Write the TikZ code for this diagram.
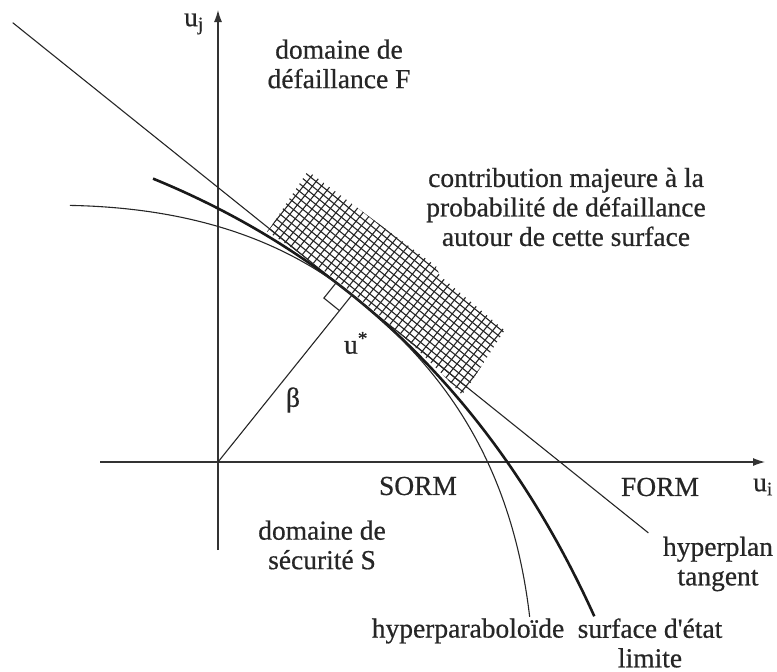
\documentclass[tikz,border=0pt]{standalone}
\usepackage{fontspec}
\setmainfont{Liberation Serif}
\newfontfamily\lblfont{Liberation Serif}[FakeBold=0.6]
\usetikzlibrary{arrows.meta}
\begin{document}
\begin{tikzpicture}[x=1pt,y=-1pt,
  lbl/.style={font=\lblfont\fontsize{27.5}{29.5}\selectfont, align=center, inner sep=0pt, text=black!85},
  thinline/.style={line width=1.1pt, black!85},
  thickline/.style={line width=2.6pt, black!90},
  axis/.style={line width=1.1pt, black!80, -{Latex[length=12pt,width=8pt]}},
  hatchline/.style={line width=1.1pt, black!85}]
\useasboundingbox (0,0) rectangle (777,672);
\coordinate (O) at (218,462);
\coordinate (X0) at (100,462);
\coordinate (X1) at (765,462);
\coordinate (Y0) at (218,550);
\coordinate (Y1) at (218,10);
\draw[axis] (X0) -- (X1);
\draw[axis] (Y0) -- (Y1);
\begin{scope}[shift={(352,295)}, x={(0.78pt,-0.626pt)}, y={(0.626pt,0.78pt)}]
  \coordinate (us) at (0,0);
  \begin{scope}
    \clip (-106,3) -- (-112,69) -- (48,75) -- (56,70) -- (141,68) -- (148,1)
      -- plot[domain=148:-106, samples=30] (\x,{-5*(\x/100)^2+2}) -- cycle;
    \foreach \s in {-120,-113,...,160} \draw[hatchline] (\s,-12) -- (\s,82);
    \foreach \h in {-12,-6,...,82} \draw[hatchline] (-120,\h) -- (160,\h);
  \end{scope}
  \coordinate (hp0) at (-435,0);
  \coordinate (hp1) at (380,0);
  \draw[thinline] (hp0) -- (hp1);
  \draw[thickline] plot[domain=-228:390, samples=120] (\x,{-6.5*(\x/100)^2});
  \draw[thinline] plot[domain=-276:0, samples=60] (\x,{-14*(\x/100)^2})
    -- plot[domain=0:340, samples=80] (\x,{-7.3*(\x/100)^2-1.41*(\x/100)^3});
  \draw[thinline] (-20,0) -- (-20,-20) -- (0,-20);
\end{scope}
\draw[thinline] (O) -- (us);
\node[lbl] (uj) at (194,24) {u\textsubscript{j}};
\node[lbl] (ui) at (763,487) {u\textsubscript{i}};
\node[lbl] (fail) at (339,64) {domaine de\\défaillance F};
\node[lbl] (contrib) at (566,207) {contribution majeure à la\\probabilité de défaillance\\autour de cette surface};
\node[lbl] (ustar) at (356,343) {u\textsuperscript{*}};
\node[lbl] (beta) at (293,400) {β};
\node[lbl] (sorm) at (418,486) {SORM};
\node[lbl] (form) at (660,487) {FORM};
\node[lbl] (safe) at (322,545) {domaine de\\sécurité S};
\node[lbl] (hplab) at (718,564) {hyperplan\\tangent};
\node[lbl] (hpara) at (468,631) {hyperparaboloïde};
\node[lbl] (surf) at (650,643) {surface d\textquotesingle état\\limite};
\end{tikzpicture}
\end{document}
